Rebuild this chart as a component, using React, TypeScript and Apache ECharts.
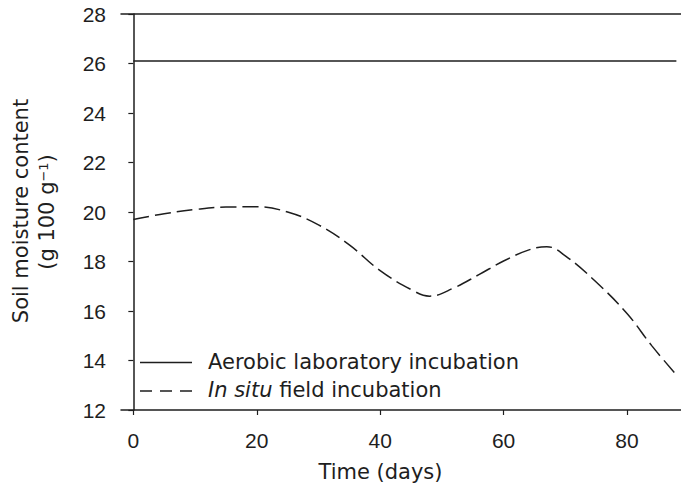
import React, { useEffect, useRef } from "react";
import * as echarts from "echarts";

const xTickValues = [0, 20, 40, 60, 80];
const aerobicDays = [0, 88];
const aerobicMoisture = [26.1, 26.1];
const inSituDays = [0, 5, 10, 15, 20, 25, 30, 35, 40, 45, 48, 52, 56, 60, 64, 67, 70, 75, 80, 84, 88];
const inSituMoisture = [19.7, 19.93, 20.1, 20.2, 20.21, 20.0, 19.48, 18.67, 17.63, 16.87, 16.6, 16.94, 17.47, 18.02, 18.46, 18.6, 18.23, 17.17, 15.9, 14.6, 13.42];

const seriesNames = ["Aerobic laboratory incubation", "In situ field incubation"];
const xTitle = "Time (days)";
const yTitle1 = "Soil moisture content";
const yTitle2 = "(g 100 g{sup|\u22121})";

const INK = "#1e1e1e";
const TICK_FONT = "Liberation Sans";
const TEXT_FONT = "DejaVu Sans";

export default function App() {
  const ref = useRef<HTMLDivElement>(null);
  useEffect(() => {
    if (!ref.current) return;
    const chart = echarts.init(ref.current, undefined, { renderer: "svg" });
    const axisLine = { show: true, lineStyle: { color: INK, width: 1.5 } };
    const option: any = {
      animation: false,
      backgroundColor: "#ffffff",
      grid: { left: 121, top: 14, right: 0, height: 396, containLabel: false },
      xAxis: [
        {
          type: "value",
          position: "bottom",
          min: -2,
          max: 88.75,
          axisLine,
          axisTick: { show: true, inside: false, length: 5, lineStyle: { color: INK, width: 1.2 }, customValues: xTickValues },
          axisLabel: { show: true, margin: 20, fontSize: 21, fontFamily: TICK_FONT, color: INK, customValues: xTickValues },
          splitLine: { show: false },
        },
        {
          type: "value",
          position: "top",
          min: -2,
          max: 88.75,
          axisLine,
          axisTick: { show: false },
          axisLabel: { show: false },
          splitLine: { show: false },
        },
      ],
      yAxis: {
        type: "value",
        min: 12,
        max: 28,
        interval: 2,
        axisLine,
        axisTick: { show: true, inside: false, length: 5, lineStyle: { color: INK, width: 1.2 } },
        axisLabel: { margin: 15, fontSize: 21, fontFamily: TICK_FONT, color: INK },
        splitLine: { show: false },
      },
      series: [
        {
          name: seriesNames[0],
          type: "line",
          xAxisIndex: 0,
          data: aerobicDays.map((d, i) => [d, aerobicMoisture[i]]),
          symbol: "none",
          lineStyle: { color: INK, width: 1.5, type: "solid" },
        },
        {
          name: seriesNames[1],
          type: "line",
          xAxisIndex: 0,
          data: inSituDays.map((d, i) => [d, inSituMoisture[i]]),
          symbol: "none",
          smooth: 0.4,
          lineStyle: { color: INK, width: 1.5, type: [16, 6] },
        },
      ],
      graphic: [
        { type: "line", shape: { x1: 140, y1: 362.5, x2: 192, y2: 362.5 }, style: { stroke: INK, lineWidth: 1.5 } },
        { type: "line", shape: { x1: 140, y1: 391, x2: 192, y2: 391 }, style: { stroke: INK, lineWidth: 1.5, lineDash: [12, 8] } },
        {
          type: "text", x: 208, y: 362,
          style: { text: seriesNames[0], fontSize: 21, fontFamily: TEXT_FONT, fill: INK, align: "left", verticalAlign: "middle", textAlign: "left", textVerticalAlign: "middle" },
        },
        {
          type: "text", x: 208, y: 390,
          style: {
            text: "{it|In situ} field incubation", fontSize: 21, fontFamily: TEXT_FONT, fill: INK,
            align: "left", verticalAlign: "middle", textAlign: "left", textVerticalAlign: "middle",
            rich: { it: { fontStyle: "italic", fontSize: 21, fontFamily: TEXT_FONT, fill: INK } },
          },
        },
        {
          type: "text", x: 380.5, y: 472,
          style: { text: xTitle, fontSize: 21, fontFamily: TEXT_FONT, fill: INK, align: "center", verticalAlign: "middle", textAlign: "center", textVerticalAlign: "middle" },
        },
        {
          type: "text", x: 21, y: 211, rotation: Math.PI / 2,
          style: { text: yTitle1, fontSize: 21, fontFamily: TEXT_FONT, fill: INK, align: "center", verticalAlign: "middle", textAlign: "center", textVerticalAlign: "middle" },
        },
        {
          type: "text", x: 47, y: 212, rotation: Math.PI / 2,
          style: {
            text: yTitle2, fontSize: 21, fontFamily: TEXT_FONT, fill: INK,
            align: "center", verticalAlign: "middle", textAlign: "center", textVerticalAlign: "middle",
            rich: { sup: { fontSize: 13, fontFamily: TEXT_FONT, fill: INK, verticalAlign: "top", lineHeight: 13 } },
          },
        },
      ],
    };
    chart.setOption(option);
    return () => chart.dispose();
  }, []);
  return (
    <div
      ref={ref}
      style={{ position: "absolute", left: 0, top: 0, width: 681, height: 489, background: "#fff" }}
    />
  );
}
